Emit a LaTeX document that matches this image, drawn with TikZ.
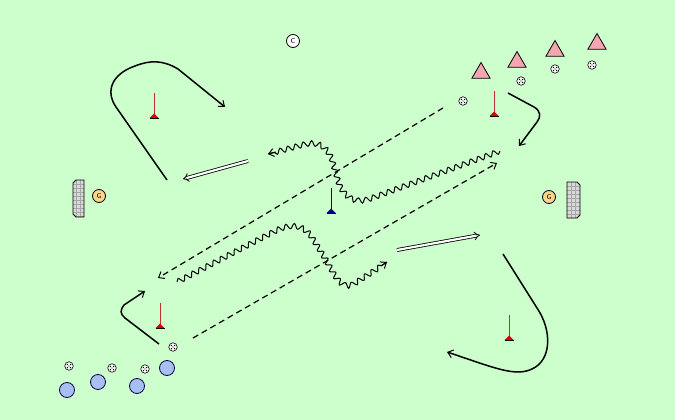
\documentclass[tikz,border=0pt]{standalone}
\usetikzlibrary{arrows.meta,decorations.pathmorphing,shapes.geometric}
\definecolor{bggreen}{HTML}{CCFFCC}
\definecolor{conepink}{HTML}{F4A7B0}
\definecolor{keeper}{HTML}{FFD58A}
\definecolor{playerblue}{HTML}{A8BFF2}
\definecolor{poleline}{HTML}{C03030}
\definecolor{polebase}{HTML}{DD0000}
\definecolor{goalgray}{HTML}{D8D8D8}
\begin{document}
\begin{tikzpicture}[x=1pt,y=-1pt,
  ballnode/.style={circle,draw=black,fill=white,line width=0.6pt,minimum size=8.5pt,inner sep=0pt,
    path picture={
      \fill[black] ([shift={(-1.6pt,-1.6pt)}]path picture bounding box.center) circle (0.75pt);
      \fill[black] ([shift={(1.6pt,-1.6pt)}]path picture bounding box.center) circle (0.75pt);
      \fill[black] ([shift={(-1.6pt,1.6pt)}]path picture bounding box.center) circle (0.75pt);
      \fill[black] ([shift={(1.6pt,1.6pt)}]path picture bounding box.center) circle (0.75pt);
      \fill[black] (path picture bounding box.center) circle (0.6pt);}},
  playernode/.style={circle,draw=black!70!blue,fill=playerblue,line width=0.8pt,minimum size=15pt,inner sep=0pt},
  conenode/.style={regular polygon,regular polygon sides=3,draw=black,fill=conepink,line width=0.8pt,minimum size=21pt,inner sep=0pt},
  letternode/.style={circle,draw=black,line width=0.8pt,minimum size=13pt,inner sep=0pt,font=\sffamily\fontsize{7}{7}\selectfont},
  runline/.style={line width=1.5pt,-{Straight Barb[length=5pt,width=8pt,line width=1pt]}},
  passline/.style={line width=1.2pt,dash pattern=on 6pt off 4pt,-{Straight Barb[length=5pt,width=8pt,line width=1pt]}},
  dribble/.style={line width=1pt,decorate,decoration={snake,amplitude=2.6pt,segment length=8pt,post length=5pt}},
  dribbletip/.style={line width=1pt,-{Straight Barb[length=5pt,width=8pt,line width=1pt]}},
  shotline/.style={double=white,double distance=2.2pt,line width=0.8pt,-{Implies[length=5pt]}},
  goalgrid/.style={draw=gray!70,line width=0.4pt}
]
\useasboundingbox (0,0) rectangle (675,420);
\fill[bggreen] (0,0) rectangle (675,420);

% poles
\foreach \px/\py/\pc/\bc in {154/93/poleline/polebase, 494/91/poleline/polebase, 160/303/poleline/polebase, 509/315/poleline/polebase, 331/188/blue!70!black/blue!60!black}{
  \draw[\pc,line width=1pt] (\px,\py) -- (\px,\py+22);
  \fill[\bc] (\px-4.5,\py+25) -- (\px,\py+20.5) -- (\px+4.5,\py+25) -- cycle;
  \draw[black,line width=0.6pt] (\px-4.5,\py+25) -- (\px+4.5,\py+25);
}

% goals
\begin{scope}
  \path[fill=goalgray] (84,180) -- (76,180) -- (73,183) -- (73,214) -- (76,217) -- (84,217) -- cycle;
  \clip (84,180) -- (76,180) -- (73,183) -- (73,214) -- (76,217) -- (84,217) -- cycle;
  \foreach \gx in {76.5,80.5} \draw[goalgrid] (\gx,178) -- (\gx,219);
  \foreach \gy in {184,188,...,216} \draw[goalgrid] (70,\gy) -- (86,\gy);
\end{scope}
\draw[line width=0.8pt] (84,180) -- (76,180) -- (73,183) -- (73,214) -- (76,217) -- (84,217) -- cycle;
\begin{scope}
  \path[fill=goalgray] (567,182) -- (577,182) -- (580,185) -- (580,215) -- (577,218) -- (567,218) -- cycle;
  \clip (567,182) -- (577,182) -- (580,185) -- (580,215) -- (577,218) -- (567,218) -- cycle;
  \foreach \gx in {571,575} \draw[goalgrid] (\gx,180) -- (\gx,220);
  \foreach \gy in {186,190,...,218} \draw[goalgrid] (565,\gy) -- (582,\gy);
\end{scope}
\draw[line width=0.8pt] (567,182) -- (577,182) -- (580,185) -- (580,215) -- (577,218) -- (567,218) -- cycle;

% people
\node[letternode,fill=white] (coach) at (293,41) {C};
\node[letternode,fill=keeper] (gl) at (99,196) {G};
\node[letternode,fill=keeper] (gr) at (549,197) {G};
\node[conenode] (t1) at (481,73) {};
\node[conenode] (t2) at (517,62) {};
\node[conenode] (t3) at (555,51) {};
\node[conenode] (t4) at (597,44) {};
\node[playernode] (p1) at (67,390) {};
\node[playernode] (p2) at (98,382) {};
\node[playernode] (p3) at (137,386) {};
\node[playernode] (p4) at (167,368) {};

% balls
\node[ballnode] (b1) at (463,101) {};
\node[ballnode] (b2) at (521,81) {};
\node[ballnode] (b3) at (555,69) {};
\node[ballnode] (b4) at (592,65) {};
\node[ballnode] (b5) at (69,366) {};
\node[ballnode] (b6) at (112,368) {};
\node[ballnode] (b7) at (145,369) {};
\node[ballnode] (b8) at (173,347) {};

% end points
\coordinate (r1s) at (167,180); \coordinate (r1e) at (225,107);
\coordinate (r2s) at (508,93);  \coordinate (r2e) at (519,146);
\coordinate (r3s) at (159,344); \coordinate (r3e) at (145,291);
\coordinate (r4s) at (503,254); \coordinate (r4e) at (447,352);
\coordinate (d1s) at (443,108); \coordinate (d1e) at (158,278);
\coordinate (d2s) at (193,338); \coordinate (d2e) at (497,163);
\coordinate (s1s) at (248,161); \coordinate (s1e) at (183,179);
\coordinate (s2s) at (397,250); \coordinate (s2e) at (480,235);
\coordinate (w1s) at (500,151); \coordinate (w1t) at (276,152); \coordinate (w1e) at (268,154);
\coordinate (w2s) at (177,282); \coordinate (w2t) at (381,266); \coordinate (w2e) at (387,262);

% runs
\draw[runline] (r1s) -- (116,107) .. controls (105,91) and (112,74) .. (135,66) .. controls (150,60) and (163,60) .. (178,69) -- (r1e);
\draw[runline] (r2s) -- (534,107) .. controls (541,111) and (541,117) .. (537,122) -- (r2e);
\draw[runline] (r3s) -- (125,318) .. controls (120,314) and (120,310) .. (124,305) -- (r3e);
\draw[runline] (r4s) -- (537,308) .. controls (552,330) and (552,360) .. (532,369) .. controls (515,377) and (495,368) .. (r4e);

% passes
\draw[passline] (d1s) -- (d1e);
\draw[passline] (d2s) -- (d2e);

% shots
\draw[shotline] (s1s) -- (s1e);
\draw[shotline] (s2s) -- (s2e);

% dribbles
\draw[dribble] (w1s) -- (372,198) .. controls (355,204) and (345,195) .. (340,181) -- (334,160) .. controls (329,146) and (320,140) .. (305,144) -- (w1e);
\draw[dribbletip] (w1t) -- (w1e);
\draw[dribble] (w2s) -- (275,231) .. controls (290,224) and (302,226) .. (310,238) -- (325,262) .. controls (334,278) and (340,292) .. (353,284) -- (w2e);
\draw[dribbletip] (w2t) -- (w2e);
\end{tikzpicture}
\end{document}
